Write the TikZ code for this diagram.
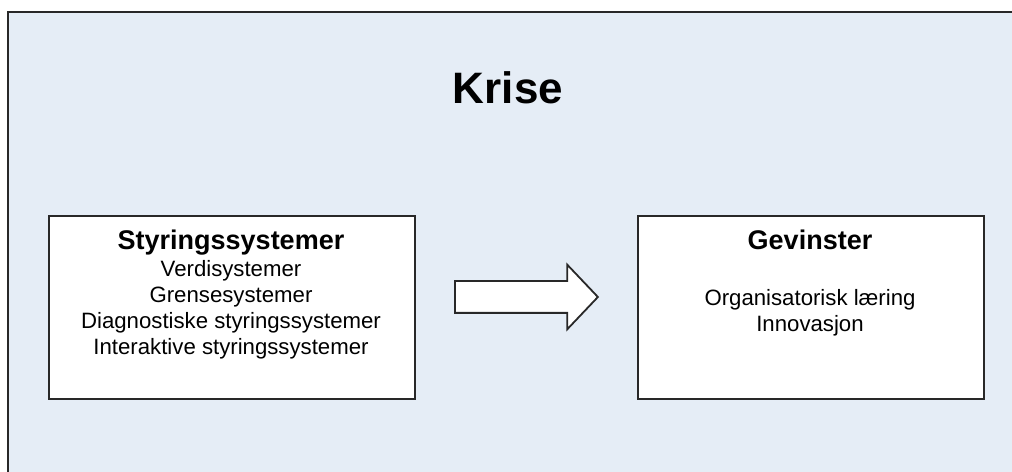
\documentclass[tikz,border=0pt]{standalone}
\usepackage{fontspec}
\setmainfont{Liberation Sans}
\usetikzlibrary{shapes.arrows}
\definecolor{crisebg}{RGB}{229,237,246}
\definecolor{rim}{RGB}{40,40,40}

\begin{document}
\begin{tikzpicture}[x=1bp, y=-1bp,
    panel/.style={draw=rim, line width=2bp, fill=white, minimum height=183bp, anchor=north west, inner sep=0pt},
    head/.style={anchor=base, font=\fontsize{27bp}{30bp}\selectfont\bfseries},
    item/.style={anchor=base, font=\fontsize{22.2bp}{26bp}\selectfont}]
    \useasboundingbox (0,0) rectangle (1012,472);

    % background frame, only its left and top edges fall on the page
    \fill[crisebg] (8,12) rectangle (1100,560);
    \draw[draw=rim, line width=2.2bp] (8,560) -- (8,12) -- (1100,12);
    \node[anchor=base, font=\fontsize{44bp}{48bp}\selectfont\bfseries] (title) at (508,104) {Krise};

    \node[panel, minimum width=366bp] (sty) at (48,215) {};
    \node[panel, minimum width=346bp] (gev) at (637,215) {};

    \node[head] (styhead) at (231,250) {Styringssystemer};
    \foreach \txt [count=\i] in {Verdisystemer, Grensesystemer, Diagnostiske styringssystemer, Interaktive styringssystemer}
        \node[item] (sty-\i) at (231,251+26*\i) {\txt};

    \node[head] (gevhead) at (810,250) {Gevinster};
    \node[item] (gev-1) at (810,306) {Organisatorisk læring};
    \node[item] (gev-2) at (810,332) {Innovasjon};

    % block arrow between the panels
    \node[single arrow, draw=rim, line width=1.8bp, fill=white, minimum height=143bp, minimum width=63bp,
          single arrow head extend=16.5bp, single arrow tip angle=93, inner xsep=0pt, inner ysep=15bp,
          anchor=tail] (flow) at (454,297) {};
\end{tikzpicture}
\end{document}
